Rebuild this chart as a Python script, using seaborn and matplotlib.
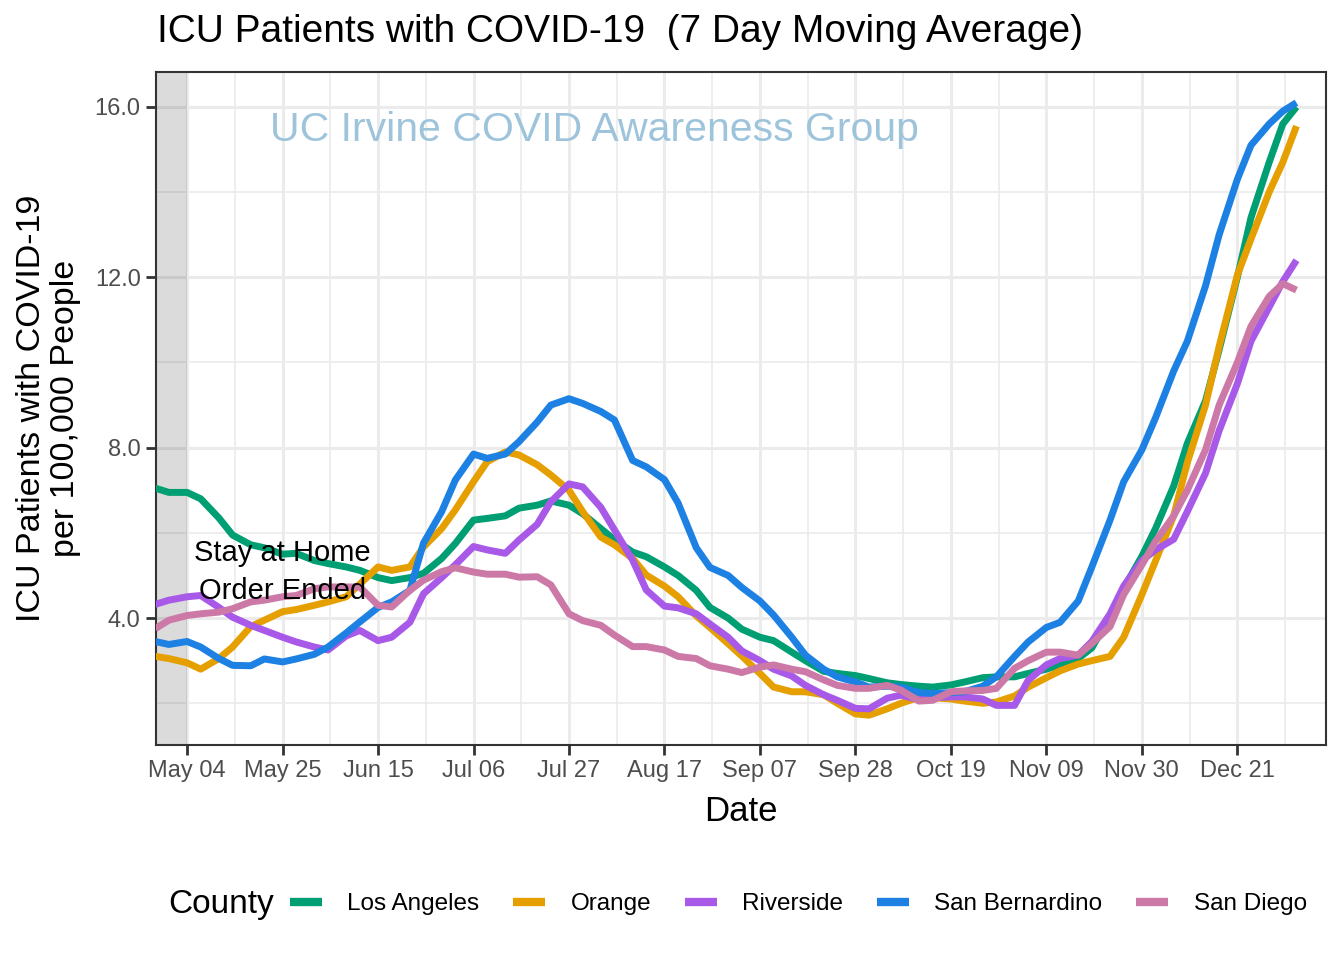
import pandas as pd
import matplotlib
matplotlib.use("Agg")
import matplotlib.pyplot as plt
from matplotlib.lines import Line2D
import seaborn as sns

# === data (Monday + Thursday samples of the 7 day average) ===
mondays = pd.date_range("2020-04-27", "2020-12-28", freq="7D")
thursdays = pd.date_range("2020-04-30", "2020-12-31", freq="7D")
dates = sorted(list(mondays) + list(thursdays)) + [pd.Timestamp("2021-01-03")]

counties = ["Los Angeles", "Orange", "Riverside", "San Bernardino", "San Diego"]
colors = ["#009E73", "#E69F00", "#A859E8", "#1C81E3", "#CC79A7"]

los_angeles = [7.05, 6.95, 6.95, 6.8, 6.35, 5.95, 5.72, 5.65, 5.5, 5.52,          # Apr 27 - May 28
               5.35, 5.28, 5.2, 5.12, 4.95, 4.88, 4.95, 5.05, 5.4,                # Jun
               5.75, 6.3, 6.34, 6.4, 6.58, 6.65, 6.75, 6.65, 6.45,                # Jul
               6.1, 5.84, 5.55, 5.44, 5.2, 5.0, 4.65, 4.25, 4.0,                  # Aug
               3.74, 3.55, 3.47, 3.2, 3.0, 2.75, 2.7, 2.65,                       # Sep
               2.58, 2.48, 2.44, 2.4, 2.38, 2.43, 2.5, 2.6, 2.62,                 # Oct
               2.62, 2.7, 2.8, 2.9, 3.05, 3.3, 4.05, 4.7, 5.45,                   # Nov
               6.1, 7.1, 8.1, 9.1, 10.3, 12.0, 13.4, 14.7, 15.6, 16.0]            # Dec - Jan 3
orange = [3.1, 3.05, 2.95, 2.8, 3.05, 3.32, 3.8, 3.95, 4.15, 4.2,
          4.3, 4.38, 4.5, 4.8, 5.2, 5.12, 5.2, 5.67, 6.1,
          6.54, 7.2, 7.67, 7.9, 7.83, 7.6, 7.36, 7.0, 6.5,
          5.9, 5.72, 5.4, 5.01, 4.75, 4.5, 4.05, 3.78, 3.4,
          3.11, 2.7, 2.38, 2.27, 2.27, 2.2, 2.0, 1.75,
          1.72, 1.87, 2.0, 2.14, 2.13, 2.1, 2.05, 2.0, 2.03,
          2.17, 2.38, 2.6, 2.76, 2.92, 3.0, 3.1, 3.55, 4.55,
          5.34, 6.4, 7.65, 9.0, 10.38, 12.05, 12.9, 14.0, 14.7, 15.55]
riverside = [4.32, 4.42, 4.5, 4.53, 4.25, 4.02, 3.83, 3.71, 3.55, 3.44,
             3.32, 3.25, 3.58, 3.71, 3.47, 3.55, 3.9, 4.57, 4.95,
             5.25, 5.68, 5.6, 5.52, 5.83, 6.2, 6.73, 7.15, 7.08,
             6.6, 6.07, 5.36, 4.66, 4.28, 4.24, 4.1, 3.86, 3.55,
             3.23, 3.0, 2.8, 2.64, 2.42, 2.2, 2.07, 1.88,
             1.87, 2.12, 2.19, 2.08, 2.13, 2.15, 2.15, 2.1, 1.95,
             1.95, 2.54, 2.9, 3.05, 3.13, 3.45, 4.1, 4.75, 5.35,
             5.6, 5.85, 6.5, 7.4, 8.4, 9.5, 10.5, 11.3, 11.9, 12.4]
san_bernardino = [3.45, 3.38, 3.45, 3.32, 3.05, 2.89, 2.88, 3.04, 2.97, 3.04,
                  3.15, 3.32, 3.65, 3.91, 4.25, 4.38, 4.65, 5.76, 6.5,
                  7.24, 7.85, 7.75, 7.85, 8.14, 8.6, 9.0, 9.15, 9.04,
                  8.85, 8.65, 7.7, 7.55, 7.25, 6.7, 5.65, 5.19, 5.0,
                  4.72, 4.4, 4.07, 3.55, 3.13, 2.8, 2.62, 2.5,
                  2.38, 2.4, 2.38, 2.25, 2.23, 2.25, 2.27, 2.4, 2.62,
                  3.1, 3.44, 3.78, 3.9, 4.4, 5.2, 6.3, 7.2, 7.95,
                  8.7, 9.8, 10.5, 11.8, 13.0, 14.3, 15.1, 15.6, 15.9, 16.1]
san_diego = [3.75, 3.95, 4.06, 4.1, 4.14, 4.22, 4.38, 4.42, 4.5, 4.53,
             4.69, 4.73, 4.73, 4.73, 4.3, 4.26, 4.65, 4.89, 5.09,
             5.18, 5.08, 5.03, 5.03, 4.96, 4.97, 4.78, 4.1, 3.94,
             3.83, 3.6, 3.33, 3.33, 3.25, 3.1, 3.05, 2.88, 2.8,
             2.72, 2.85, 2.9, 2.8, 2.74, 2.55, 2.42, 2.35,
             2.35, 2.42, 2.31, 2.05, 2.07, 2.27, 2.29, 2.3, 2.35,
             2.82, 3.0, 3.2, 3.2, 3.13, 3.4, 3.8, 4.55, 5.25,
             5.8, 6.4, 7.0, 7.95, 9.0, 10.0, 10.85, 11.55, 11.85, 11.7]

stay_home_end = pd.Timestamp("2020-05-04")
x_ticks = list(pd.date_range("2020-05-04", periods=12, freq="21D"))
y_ticks = [4, 8, 12, 16]
y_minor = [2, 6, 10, 14]

series = [los_angeles, orange, riverside, san_bernardino, san_diego]
df = pd.DataFrame({
    "Date": dates * len(counties),
    "County": [c for c in counties for _ in dates],
    "ICU": [v for s in series for v in s],
})

# === theme ===
sns.set_theme(style="white")
plt.rcParams["font.family"] = ["Liberation Sans", "DejaVu Sans"]
plt.rcParams["text.color"] = "black"
plt.rcParams["axes.labelcolor"] = "black"

fig = plt.figure(figsize=(13.44, 9.6), dpi=100)
ax = fig.add_axes([156 / 1344, 1 - 745 / 960, 1170 / 1344, 673 / 960])

sns.lineplot(data=df, x="Date", y="ICU", hue="County", hue_order=counties,
             palette=colors, linewidth=5.0, legend=False, ax=ax, zorder=3)
for ln in ax.get_lines():
    ln.set_solid_capstyle("butt")

x_left = pd.Timestamp("2020-04-27 04:00")
x_right = pd.Timestamp("2021-01-09 12:00")
ax.axvspan(x_left, stay_home_end, color="black", alpha=0.14, lw=0, zorder=2)
ax.set_xlim(x_left, x_right)
ax.set_ylim(1.02, 16.82)

ax.set_xticks(x_ticks)
ax.set_xticklabels([d.strftime("%b %d") for d in x_ticks])
ax.set_xticks([d + pd.Timedelta(hours=252) for d in x_ticks], minor=True)
ax.set_yticks(y_ticks)
ax.set_yticklabels([f"{v:.1f}" for v in y_ticks])
ax.set_yticks(y_minor, minor=True)

ax.set_axisbelow(True)
ax.grid(which="major", color="#EBEBEB", lw=2.2)
ax.grid(which="minor", color="#EBEBEB", lw=1.2)
ax.tick_params(which="major", length=7, width=2, color="#333333", labelsize=17,
               labelcolor="#4D4D4D", pad=4, bottom=True, left=True)
ax.tick_params(which="minor", length=0)
for sp in ax.spines.values():
    sp.set_color("#333333")
    sp.set_linewidth(1.5)

ax.set_xlabel("Date", fontsize=25, labelpad=9)
ax.set_ylabel("ICU Patients with COVID-19\nper 100,000 People", fontsize=24.5, labelpad=10,
              linespacing=1.12)

ax.text(0.375, 0.914, "UC Irvine COVID Awareness Group", transform=ax.transAxes,
        ha="center", va="center", color="#9EC4DC", fontsize=29.5)
ax.text(0.108, 0.257, "Stay at Home\nOrder Ended", transform=ax.transAxes,
        ha="center", va="center", color="black", fontsize=21, linespacing=1.45, zorder=4)

fig.text(157 / 1344, 1 - 32 / 960, "ICU Patients with COVID-19  (7 Day Moving Average)",
         ha="left", va="center", fontsize=28, color="black")

# legend along the bottom, title at its left
fig.text(168 / 1344, 1 - 904 / 960, "County", ha="left", va="center", fontsize=24, color="black")
handles = [Line2D([], [], color=c, lw=6, solid_capstyle="butt") for c in colors]
leg = fig.legend(handles, counties, loc="center left", bbox_to_anchor=(290 / 1344, 1 - 904 / 960),
                 ncol=5, frameon=False, fontsize=17.5, handlelength=1.3, handletextpad=1.05,
                 columnspacing=1.4, borderaxespad=0, borderpad=0)
for t in leg.get_texts():
    t.set_color("black")

fig.savefig("out.png", dpi=100)
